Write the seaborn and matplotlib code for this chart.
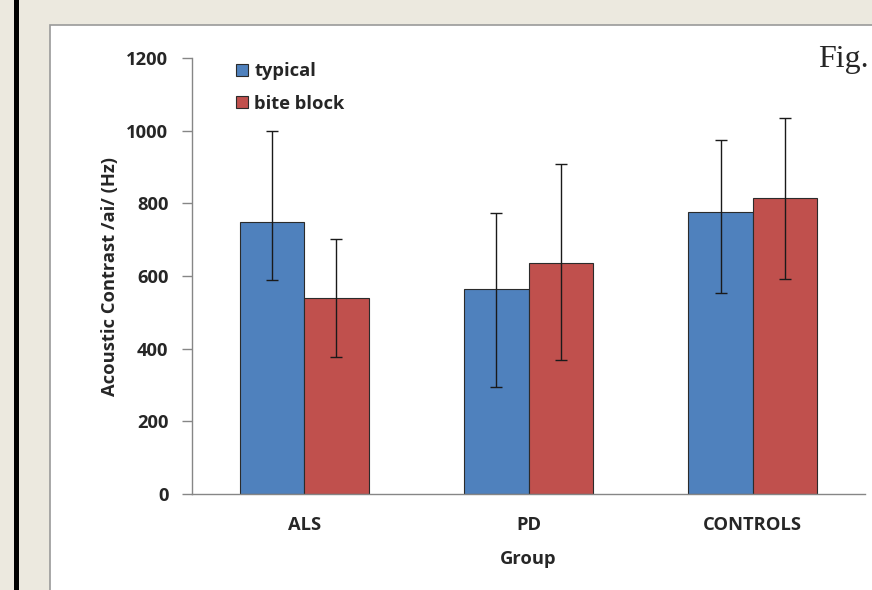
import numpy as np
import pandas as pd
import seaborn as sns
import matplotlib.pyplot as plt
from matplotlib.patches import Rectangle, Patch

# dados
groups = ['ALS', 'PD', 'CONTROLS']
conditions = ['typical', 'bite block']
typical = [749, 565, 775]
bite_block = [539, 637, 814]
typical_hi = [999, 774, 973]
typical_lo = [589, 294, 552]
bite_hi = [701, 908, 1035]
bite_lo = [378, 368, 592]
y_ticks = [0, 200, 400, 600, 800, 1000, 1200]

colors = ['#4f81bd', '#c0504d']

df = pd.DataFrame({
    'Group': groups * 2,
    'cond': [conditions[0]] * 3 + [conditions[1]] * 3,
    'value': typical + bite_block,
})

sns.set_style('white')
plt.rcParams['font.family'] = ['Open Sans', 'DejaVu Sans']
plt.rcParams['font.weight'] = 'bold'

W, H = 872, 590
fig = plt.figure(figsize=(W / 100, H / 100), dpi=100)
fig.patch.set_facecolor('#ece9df')

# moldura do slide
fig.patches.append(Rectangle((14 / W, 0), 5 / W, 1, transform=fig.transFigure,
                             facecolor='black', edgecolor='none', zorder=-10))
fig.patches.append(Rectangle((49.5 / W, -0.1), 1, 1 - 24.5 / H + 0.1, transform=fig.transFigure,
                             facecolor='white', edgecolor='#9a9a9a', linewidth=1.2, zorder=-10))

ax = fig.add_axes([192 / W, 1 - 494 / H, 673 / W, 436 / H])
ax.set_facecolor('none')
ax.set_zorder(5)

sns.barplot(data=df, x='Group', y='value', hue='cond', order=groups, hue_order=conditions,
            palette=colors, width=0.575, errorbar=None, edgecolor='#2b2b2b', linewidth=0.8,
            saturation=1, ax=ax)

# barras de erro assimetricas
hi = [typical_hi, bite_hi]
lo = [typical_lo, bite_lo]
vals = [typical, bite_block]
bar_conts = list(ax.containers)
for k, cont in enumerate(bar_conts):
    xs = [p.get_x() + p.get_width() / 2 for p in cont.patches]
    v = np.array(vals[k])
    yerr = [v - np.array(lo[k]), np.array(hi[k]) - v]
    ax.errorbar(xs, v, yerr=yerr, fmt='none', ecolor='#1a1a1a', elinewidth=1,
                capsize=4, capthick=1, zorder=5)

fs = 13.2
ax.set_ylim(0, 1200)
ax.set_xlim(-0.5, 2.5)
ax.set_yticks(y_ticks)
ax.set_xticks(range(len(groups)))
ax.set_xticklabels(groups)
ax.set_xticks([-0.5, 0.5, 1.5, 2.5], minor=True)
ax.tick_params(axis='x', which='major', length=0, pad=16, labelsize=fs)
ax.tick_params(axis='x', which='minor', length=7, color='#868686', width=1, direction='out')
ax.tick_params(axis='y', length=7, color='#868686', width=1, direction='out', pad=10, labelsize=fs, left=True)

for s in ['top', 'right']:
    ax.spines[s].set_visible(False)
for s in ['left', 'bottom']:
    ax.spines[s].set_color('#868686')
    ax.spines[s].set_linewidth(1)

ax.set_xlabel('Group', fontsize=fs, fontweight='bold', labelpad=11)
ax.set_ylabel('Acoustic Contrast /ai/ (Hz)', fontsize=fs, fontweight='bold', labelpad=5)

handles = [Patch(facecolor=c, edgecolor='#2b2b2b', linewidth=0.8) for c in colors]
ax.legend(handles, conditions, loc='upper left', bbox_to_anchor=(0.066, 0.99), frameon=False,
          fontsize=fs, handlelength=0.62, handleheight=0.62, handletextpad=0.35,
          labelspacing=0.78, borderpad=0, borderaxespad=0)

fig.text(818 / W, 1 - 60 / H, 'Fig.', family='Liberation Serif', fontweight='normal',
         fontsize=23, va='center', ha='left')

fig.savefig('out.png', dpi=100, facecolor=fig.get_facecolor())
